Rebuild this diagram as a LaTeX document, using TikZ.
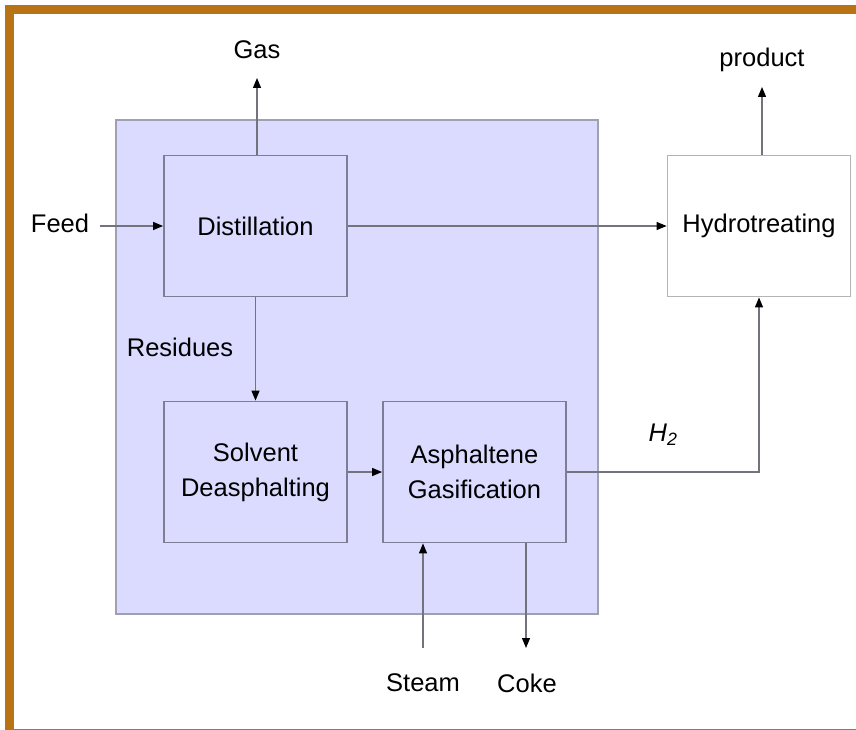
\documentclass[tikz,border=0pt]{standalone}
\usepackage{fontspec}
\setmainfont{Liberation Sans}
\usepackage{tikz}
\usetikzlibrary{arrows.meta, positioning, calc}
\definecolor{cbrown}{RGB}{184,115,20}
\definecolor{lavender}{RGB}{219,219,255}
\definecolor{panelgray}{RGB}{160,160,178}
\definecolor{boxgray}{RGB}{125,125,150}
\definecolor{linegray}{RGB}{115,115,125}
\definecolor{hydrogray}{RGB}{180,180,180}

\begin{document}
\begin{tikzpicture}[
    x=1pt, y=-1pt,
    >={Triangle[length=10pt, width=8pt, color=black]},
    every node/.style={font=\fontsize{25.5}{35}\selectfont},
    box/.style={draw=boxgray, line width=1.8pt, fill=lavender, minimum width=183pt, minimum height=141pt, align=center, inner sep=0pt},
    panel/.style={draw=panelgray, line width=2pt, fill=lavender, minimum width=482pt, minimum height=494pt, inner sep=0pt},
    flow/.style={->, draw=linegray, line width=1.2pt},
]
    \useasboundingbox (0,0) rectangle (856,730);
    \begin{scope}
        \clip (0,0) rectangle (856,730);
        \draw[cbrown, line width=9pt] (9.5,9.5) rectangle (880,733.5);
    \end{scope}

    % process unit and blocks
    \node[panel] (unit) at (357,367) {};
    \node[box] (dist) at (255.5,226) {Distillation};
    \node[box] (solv) at (255.5,472) {Solvent\\Deasphalting};
    \node[box] (asph) at (474.5,472) {Asphaltene\\Gasification};
    \node[box, draw=hydrogray, fill=white] (hydro) at (759,226) {Hydrotreating};

    % stream labels
    \node (gas) at (257,50) {Gas};
    \node (product) at (762,60) {product};
    \node (feed) at (60,223) {Feed};
    \node (residues) at (180,347) {Residues};
    \node (htwo) at (663,435) {\itshape H\textsubscript{2}};
    \node (steam) at (423,683) {Steam};
    \node (coke) at (527,683) {Coke};

    \coordinate (gastip) at (257,78);
    \coordinate (prodtip) at (762,87);
    \coordinate (feedin) at (100,226);
    \coordinate (steamin) at (423,648);
    \coordinate (coketip) at (526,648);

    \draw[flow] (gastip |- dist.north) -- (gastip);
    \draw[flow] (prodtip |- hydro.north) -- (prodtip);
    \draw[flow] (feedin) -- (dist.west);
    \draw[flow] (dist.east) -- (hydro.west);
    \draw[flow] (dist.south) -- (solv.north);
    \draw[flow] (solv.east) -- (asph.west);
    \draw[flow] (asph.east) -| (hydro.south);
    \draw[flow] (steamin) -- (steamin |- asph.south);
    \draw[flow] (coketip |- asph.south) -- (coketip);
\end{tikzpicture}
\end{document}
